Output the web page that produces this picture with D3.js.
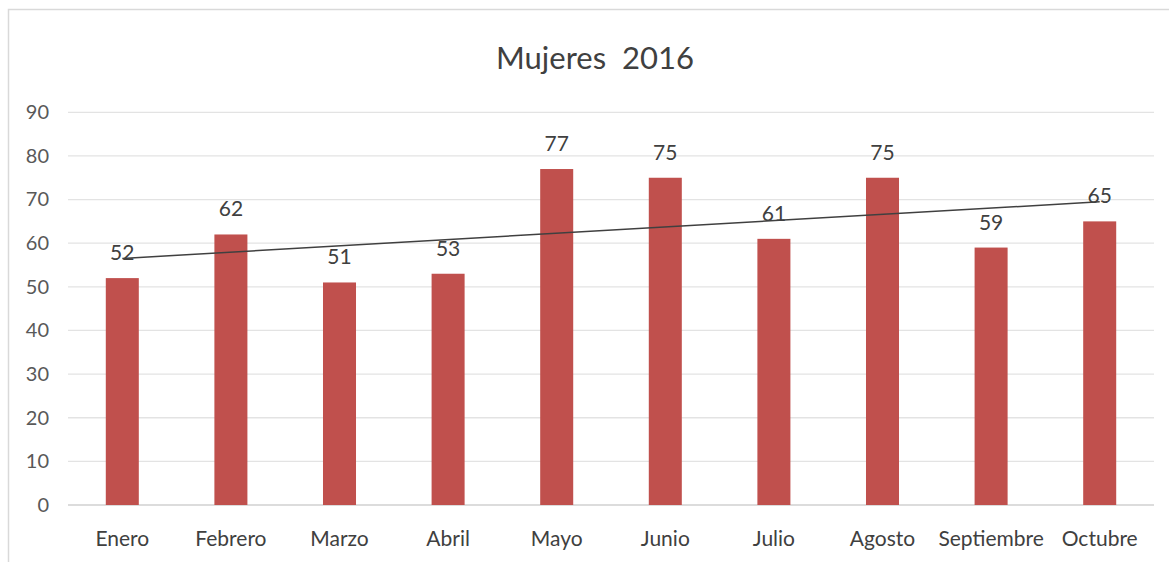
<!DOCTYPE html>
<html><head><meta charset="utf-8">
<script src="https://cdn.jsdelivr.net/npm/d3@7"></script>
<style>
html,body{margin:0;padding:0;background:#fff;}
svg text{font-family:"Lato","Open Sans",sans-serif;}
</style></head>
<body><svg id="c" width="1169" height="562"></svg>
<script>
const categories = ["Enero","Febrero","Marzo","Abril","Mayo","Junio","Julio","Agosto","Septiembre","Octubre"];
const values = [52,62,51,53,77,75,61,75,59,65];
const yTicks = [0,10,20,30,40,50,60,70,80,90];
const title = "Mujeres  2016";

const svg = d3.select("#c");
// outer chart border
svg.append("path").attr("d","M8.5,562 V9.5 H1169").attr("fill","none").attr("stroke","#d9d9d9").attr("stroke-width",1.5);

const x = d3.scaleBand().domain(categories).range([68,1154]).paddingInner(0.696).paddingOuter(0.348);
const y = d3.scaleLinear().domain([0,90]).range([505,112.3]);

// gridlines
svg.append("g").selectAll("line").data(yTicks).join("line")
  .attr("x1",68).attr("x2",1154)
  .attr("y1",d=>y(d)).attr("y2",d=>y(d))
  .attr("stroke",d=>d===0?"#d0d0d0":"#e3e3e3").attr("stroke-width",1.3);

// y axis labels
const yAxis = d3.axisLeft(y).tickValues(yTicks).tickSize(0).tickPadding(0);
const gy = svg.append("g").attr("transform","translate(49,0)").call(yAxis);
gy.select(".domain").remove();
gy.selectAll("text").attr("font-size",20).attr("fill","#595959").attr("font-family","Lato, 'Open Sans', sans-serif");

// x axis labels
const xAxis = d3.axisBottom(x).tickSize(0).tickPadding(0);
const gx = svg.append("g").attr("transform","translate(0,531)").call(xAxis);
gx.select(".domain").remove();
gx.selectAll("text").attr("font-size",21).attr("fill","#404040").attr("font-family","Lato, 'Open Sans', sans-serif");

// bars
svg.append("g").selectAll("rect").data(values).join("rect")
  .attr("x",(d,i)=>x(categories[i])).attr("width",x.bandwidth())
  .attr("y",d=>y(d)).attr("height",d=>y(0)-y(d))
  .attr("fill","#C0504D");

// linear trendline (least squares over category index)
const n = values.length;
const xs = values.map((d,i)=>i+1);
const mx = d3.mean(xs), my = d3.mean(values);
const slope = d3.sum(xs.map((xi,i)=>(xi-mx)*(values[i]-my))) / d3.sum(xs.map(xi=>(xi-mx)**2));
const icpt = my - slope*mx;
const cx = i => x(categories[i]) + x.bandwidth()/2;
svg.append("line")
  .attr("x1",cx(0)).attr("y1",y(icpt+slope*1))
  .attr("x2",cx(n-1)).attr("y2",y(icpt+slope*n))
  .attr("stroke","#404040").attr("stroke-width",1.5);

// data labels
svg.append("g").selectAll("text").data(values).join("text")
  .attr("x",(d,i)=>cx(i)).attr("y",d=>y(d)-18)
  .attr("text-anchor","middle").attr("font-size",21).attr("fill","#404040")
  .text(d=>d);

// title
svg.append("text").attr("x",595).attr("y",69).attr("text-anchor","middle")
  .attr("font-size",31).attr("fill","#404040").text(title).style("white-space","pre");
</script></body></html>
